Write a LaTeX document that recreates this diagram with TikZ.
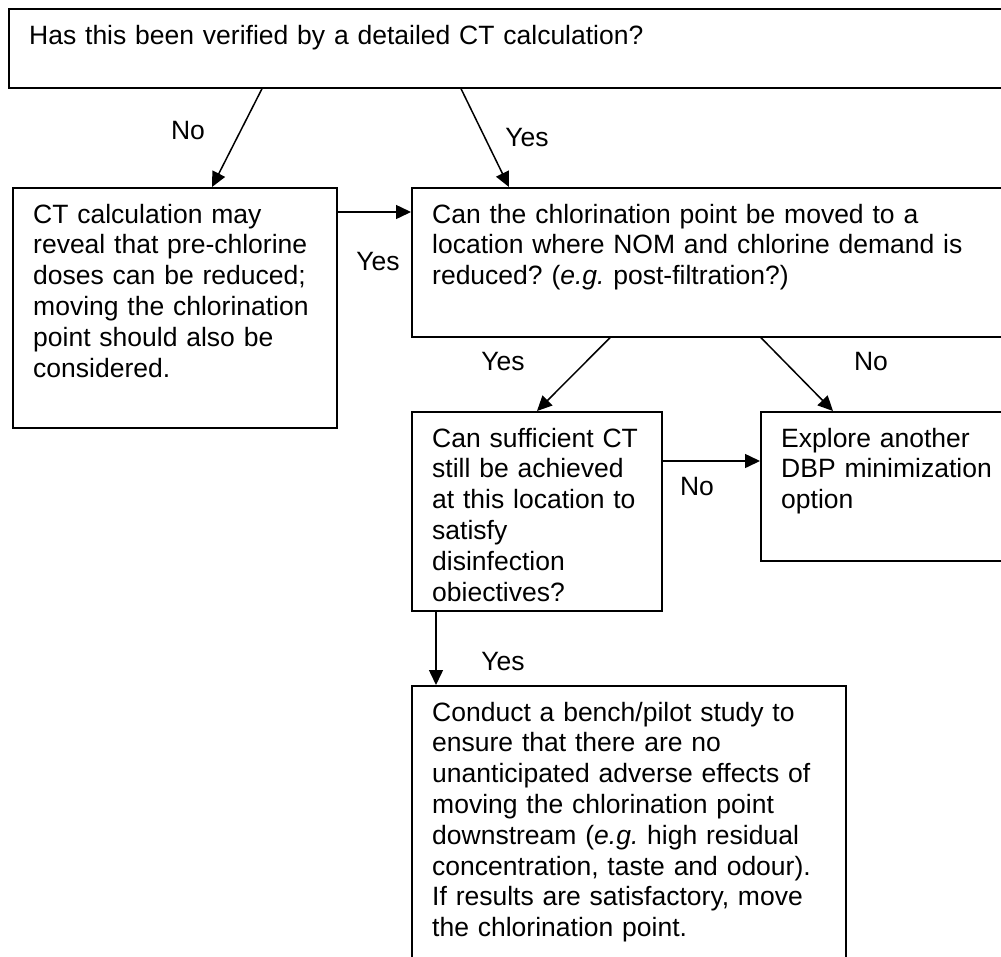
\documentclass[tikz,border=0pt]{standalone}
\usepackage{fontspec}
\setmainfont{Liberation Sans}
\usetikzlibrary{arrows.meta,calc}
\frenchspacing
\begin{document}
\begin{tikzpicture}[x=1pt,y=-1pt,
  box/.style={draw=black,line width=1.7pt,rectangle,anchor=north west,inner sep=0pt},
  txt/.style={anchor=base west,inner sep=0pt,text width=900pt,align=left,font=\frenchspacing\fontsize{26.5}{30.8}\selectfont},
  lbl/.style={inner sep=0pt,font=\fontsize{26.5}{30.8}\selectfont},
  arr/.style={line width=1.5pt,-{Triangle[length=15pt,width=14pt]}}]
\useasboundingbox (0,0) rectangle (1001,956);
\fill[white] (0,0) rectangle (1001,956);
\clip (0,0) rectangle (1001,956);

% boxes
\node[box,minimum width=1002pt,minimum height=79pt] (top) at (8,8) {};
\node[box,minimum width=324pt,minimum height=240pt] (left) at (12,187) {};
\node[box,minimum width=599pt,minimum height=149pt] (q2) at (411,187) {};
\node[box,minimum width=250pt,minimum height=199pt] (q3) at (411,411) {};
\node[box,minimum width=250pt,minimum height=149pt] (expl) at (760,411) {};
\node[box,minimum width=434pt,minimum height=290pt] (bot) at (411,685) {};

% texts
\node[txt] (ttop) at (29,44) {Has this been verified by a detailed CT calculation?};
\node[txt] (tleft) at (33,223) {CT calculation may\\reveal that pre-chlorine\\doses can be reduced;\\moving the chlorination\\point should also be\\considered.};
\node[txt] (tq2) at (432,223) {Can the chlorination point be moved to a\\location where NOM and chlorine demand is\\reduced? (\textit{e.g.} post-filtration?)};
\node[txt] (tq3) at (432,447) {Can sufficient CT\\still be achieved\\at this location to\\satisfy\\disinfection\\obiectives?};
\node[txt] (texpl) at (781,447) {Explore another\\DBP minimization\\option};
\node[txt] (tbot) at (432,721) {Conduct a bench/pilot study to\\ensure that there are no\\unanticipated adverse effects of\\moving the chlorination point\\downstream (\textit{e.g.} high residual\\concentration, taste and odour).\\If results are satisfactory, move\\the chlorination point.};

% connectors
\draw[arr] ($(top.south west)+(254,0)$) -- ($(left.north west)+(200,0)$);
\draw[arr] ($(top.south west)+(453,0)$) -- ($(q2.north west)+(98,0)$);
\draw[arr] ($(left.north east)+(0,25)$) -- ($(q2.north west)+(0,25)$);
\draw[arr] ($(q2.south west)+(199,0)$) -- ($(q3.north west)+(126,0)$);
\draw[arr] ($(q2.south west)+(350,0)$) -- ($(expl.north west)+(73,0)$);
\draw[arr] ($(q3.north east)+(0,50)$) -- ($(expl.north west)+(0,50)$);
\draw[arr] ($(q3.south west)+(25,0)$) -- ($(bot.north west)+(25,0)$);

% labels
\node[lbl] (l1) at (188,131) {No};
\node[lbl] (l2) at (527,138) {Yes};
\node[lbl] (l3) at (378,262) {Yes};
\node[lbl] (l4) at (503,362) {Yes};
\node[lbl] (l5) at (871,362) {No};
\node[lbl] (l6) at (697,487) {No};
\node[lbl] (l7) at (503,662) {Yes};
\end{tikzpicture}
\end{document}
